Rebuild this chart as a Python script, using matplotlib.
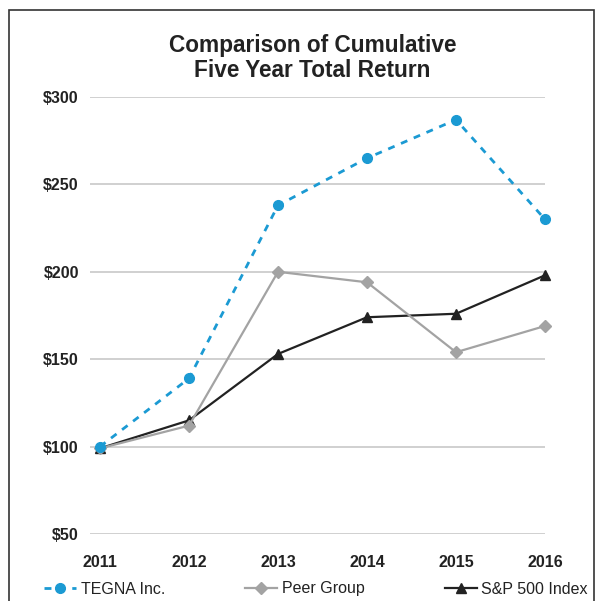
import matplotlib.pyplot as plt
from matplotlib.patches import Rectangle

plt.rcParams['font.family'] = ['Liberation Sans', 'DejaVu Sans']

years = [2011, 2012, 2013, 2014, 2015, 2016]
tegna = [100, 139, 238, 265, 287, 230]
peer = [99, 112, 200, 194, 154, 169]
sp500 = [99, 115, 153, 174, 176, 198]
y_ticks = [50, 100, 150, 200, 250, 300]
y_labels = ['$50', '$100', '$150', '$200', '$250', '$300']

blue = '#1b9ad3'
gray = '#a3a3a3'
black = '#222222'

fig = plt.figure(figsize=(5.95, 6.01), dpi=100)
ax = fig.add_axes([90 / 595, 1 - 534 / 601, 455 / 595, 437 / 601])

ax.plot(years, sp500, color=black, lw=1.6, marker='^', ms=7, clip_on=False,
        label='S&P 500 Index', zorder=3)
ax.plot(years, peer, color=gray, lw=1.6, marker='D', ms=6, clip_on=False,
        label='Peer Group', zorder=4)
ax.plot(years, tegna, color=blue, lw=2, ls=(0, (2.5, 2.5)), marker='o', ms=7,
        clip_on=False, label='TEGNA Inc.', zorder=5)

ax.set_xlim(2011 - 10 / 89, 2016)
ax.set_ylim(50, 300)
ax.set_yticks(y_ticks)
ax.set_yticklabels(y_labels)
ax.set_xticks(years)
ax.grid(axis='y', color='#c8c8c8', lw=1.2)
ax.set_axisbelow(True)
for s in ax.spines.values():
    s.set_visible(False)
ax.tick_params(length=0, labelsize=11.5, colors='#222222')
ax.tick_params(axis='y', pad=8)
ax.tick_params(axis='x', pad=15)
for lab in ax.get_xticklabels() + ax.get_yticklabels():
    lab.set_fontweight('bold')

fig.text(0.525, 1 - 58 / 601, 'Comparison of Cumulative\nFive Year Total Return',
         ha='center', va='center', fontsize=16.3, fontweight='bold',
         color='#222222', linespacing=1.13)

h, l = ax.get_legend_handles_labels()
order = [2, 1, 0]
leg = fig.legend([h[i] for i in order], [l[i] for i in order], ncol=3,
                 loc='center left', bbox_to_anchor=(30 / 595, 1 - 589 / 601),
                 frameon=False, fontsize=11.5, columnspacing=5.0,
                 handlelength=2.0, handletextpad=0.3)
for t in leg.get_texts():
    t.set_color('#222222')

fig.patches.append(Rectangle((9 / 595, -0.05), 585 / 595, 1.05 - 10 / 601,
                             transform=fig.transFigure, fill=False,
                             edgecolor='#333333', lw=1.2))

fig.savefig('out.png', dpi=100)
